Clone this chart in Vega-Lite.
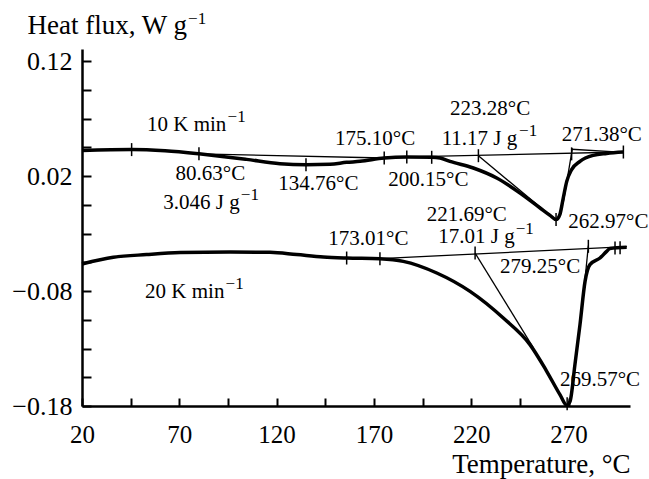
{
  "$schema": "https://vega.github.io/schema/vega-lite/v6.json",
  "width": 548,
  "height": 357,
  "autosize": "none",
  "padding": {"left": 82, "top": 49, "right": 19, "bottom": 73},
  "background": "white",
  "config": {
    "view": {"stroke": null},
    "font": "Liberation Serif",
    "axis": {"grid": false, "domainColor": "black", "domainWidth": 2.5, "tickColor": "black", "tickWidth": 2, "labelColor": "black", "titleColor": "black", "labelFont": "Liberation Serif", "titleFont": "Liberation Serif", "titleFontSize": 27, "titleFontWeight": "normal", "labelOverlap": false, "labelFlush": false}
  },
  "datasets": {
    "curves": [
      {"s": "10", "T": 20, "hf": 0.0423}, {"s": "10", "T": 45.5, "hf": 0.0430}, {"s": "10", "T": 62.7, "hf": 0.0419}, {"s": "10", "T": 80.1, "hf": 0.0393}, {"s": "10", "T": 92, "hf": 0.0371}, {"s": "10", "T": 104.6, "hf": 0.0345}, {"s": "10", "T": 121.7, "hf": 0.0308}, {"s": "10", "T": 135.1, "hf": 0.0299}, {"s": "10", "T": 147.4, "hf": 0.0303}, {"s": "10", "T": 156, "hf": 0.0319}, {"s": "10", "T": 162.9, "hf": 0.0328}, {"s": "10", "T": 175.3, "hf": 0.0357}, {"s": "10", "T": 186.9, "hf": 0.0365}, {"s": "10", "T": 199.7, "hf": 0.0363}, {"s": "10", "T": 204, "hf": 0.0357}, {"s": "10", "T": 209.1, "hf": 0.0328}, {"s": "10", "T": 221.1, "hf": 0.0270}, {"s": "10", "T": 233.1, "hf": 0.0183}, {"s": "10", "T": 245.1, "hf": 0.0052}, {"s": "10", "T": 255.4, "hf": -0.0078}, {"s": "10", "T": 260.5, "hf": -0.0142}, {"s": "10", "T": 263.6, "hf": -0.0179}, {"s": "10", "T": 265.6, "hf": -0.0133}, {"s": "10", "T": 267.3, "hf": 0.0009}, {"s": "10", "T": 269.1, "hf": 0.0154}, {"s": "10", "T": 271.6, "hf": 0.0256}, {"s": "10", "T": 275.9, "hf": 0.0328}, {"s": "10", "T": 282.7, "hf": 0.0380}, {"s": "10", "T": 289.6, "hf": 0.0397}, {"s": "10", "T": 298.2, "hf": 0.0409},
      {"s": "20", "T": 20, "hf": -0.0565}, {"s": "20", "T": 36.1, "hf": -0.0507}, {"s": "20", "T": 53.2, "hf": -0.0483}, {"s": "20", "T": 70.4, "hf": -0.0466}, {"s": "20", "T": 96.1, "hf": -0.0461}, {"s": "20", "T": 116.6, "hf": -0.0463}, {"s": "20", "T": 130.3, "hf": -0.0483}, {"s": "20", "T": 144, "hf": -0.0504}, {"s": "20", "T": 156, "hf": -0.0513}, {"s": "20", "T": 173.1, "hf": -0.0520}, {"s": "20", "T": 185.1, "hf": -0.0542}, {"s": "20", "T": 202.3, "hf": -0.0643}, {"s": "20", "T": 219.4, "hf": -0.0803}, {"s": "20", "T": 236.5, "hf": -0.1035}, {"s": "20", "T": 250.2, "hf": -0.1266}, {"s": "20", "T": 258.8, "hf": -0.1498}, {"s": "20", "T": 265.6, "hf": -0.1701}, {"s": "20", "T": 269.1, "hf": -0.1794}, {"s": "20", "T": 270.8, "hf": -0.1759}, {"s": "20", "T": 273.3, "hf": -0.1440}, {"s": "20", "T": 275.9, "hf": -0.1092}, {"s": "20", "T": 278.5, "hf": -0.0716}, {"s": "20", "T": 281.0, "hf": -0.0570}, {"s": "20", "T": 286.2, "hf": -0.0513}, {"s": "20", "T": 289.6, "hf": -0.0455}, {"s": "20", "T": 291.3, "hf": -0.0431}, {"s": "20", "T": 299.9, "hf": -0.0420}
    ],
    "thin": [
      {"id": "B1", "T": 80.1, "hf": 0.0393}, {"id": "B1", "T": 175.3, "hf": 0.0357},
      {"id": "B2", "T": 175.3, "hf": 0.0363}, {"id": "B2", "T": 298.2, "hf": 0.0409},
      {"id": "T1", "T": 223.7, "hf": 0.0377}, {"id": "T1", "T": 258, "hf": -0.0107},
      {"id": "T2", "T": 272.0, "hf": 0.0440}, {"id": "T2", "T": 267.4, "hf": -0.0022},
      {"id": "S1", "T": 271.6, "hf": 0.0433}, {"id": "S1", "T": 298.2, "hf": 0.0406},
      {"id": "LB", "T": 173.1, "hf": -0.0518}, {"id": "LB", "T": 300, "hf": -0.0414},
      {"id": "LT1", "T": 222, "hf": -0.0470}, {"id": "LT1", "T": 251.8, "hf": -0.129},
      {"id": "LT2", "T": 280.2, "hf": -0.0405}, {"id": "LT2", "T": 277.3, "hf": -0.090}
    ],
    "ticks": [
      {"T": 45.5, "hf": 0.0430}, {"T": 80.1, "hf": 0.0393}, {"T": 135.1, "hf": 0.0299}, {"T": 175.3, "hf": 0.0357}, {"T": 186.9, "hf": 0.0365}, {"T": 199.7, "hf": 0.0363}, {"T": 223.7, "hf": 0.0377}, {"T": 263.6, "hf": -0.0179}, {"T": 271.6, "hf": 0.0393}, {"T": 298.2, "hf": 0.0409},
      {"T": 156, "hf": -0.0513}, {"T": 173.1, "hf": -0.0520}, {"T": 222, "hf": -0.0470}, {"T": 269.3, "hf": -0.178}, {"T": 280.2, "hf": -0.0411}, {"T": 293.9, "hf": -0.0426}, {"T": 296.5, "hf": -0.0424}
    ],
    "labels": [
      {"T": 53.4, "hf": 0.0589, "text": "10 K min"},
      {"T": 68.1, "hf": 0.0163, "text": "80.63°C"},
      {"T": 61.8, "hf": -0.0083, "text": "3.046 J g"},
      {"T": 120.9, "hf": 0.0076, "text": "134.76°C"},
      {"T": 150, "hf": 0.0473, "text": "175.10°C"},
      {"T": 177.4, "hf": 0.011, "text": "200.15°C"},
      {"T": 209.1, "hf": 0.0734, "text": "223.28°C"},
      {"T": 204.8, "hf": 0.0473, "text": "11.17 J g"},
      {"T": 266.5, "hf": 0.0508, "text": "271.38°C"},
      {"T": 269.9, "hf": -0.0252, "text": "262.97°C"},
      {"T": 197.1, "hf": -0.0194, "text": "221.69°C"},
      {"T": 203.1, "hf": -0.0383, "text": "17.01 J g"},
      {"T": 146.6, "hf": -0.0403, "text": "173.01°C"},
      {"T": 234.8, "hf": -0.0643, "text": "279.25°C"},
      {"T": 265.6, "hf": -0.1629, "text": "269.57°C"},
      {"T": 52.4, "hf": -0.0861, "text": "20 K min"}
    ],
    "sups": [
      {"T": 94.8, "hf": 0.0589, "text": "−1"},
      {"T": 101.6, "hf": -0.0083, "text": "−1"},
      {"T": 244.6, "hf": 0.0473, "text": "−1"},
      {"T": 242.9, "hf": -0.0383, "text": "−1"},
      {"T": 93.8, "hf": -0.0861, "text": "−1"},
      {"T": 74.5, "hf": 0.1443, "text": "−1"}
    ]
  },
  "encoding": {
    "x": {"field": "T", "type": "quantitative",
      "scale": {"domain": [20, 301.6], "nice": false, "zero": false},
      "axis": {"values": [20, 45, 70, 95, 120, 145, 170, 195, 220, 245, 270], "labelExpr": "datum.value % 50 == 20 ? datum.label : ''", "labelFontSize": 25, "tickSize": -8, "labelPadding": 24, "title": "Temperature, °C", "titleAlign": "right", "titleAnchor": "end", "titleX": 548, "titleY": 66, "titleBaseline": "alphabetic"}},
    "y": {"field": "hf", "type": "quantitative",
      "scale": {"domain": [-0.18, 0.1305], "nice": false, "zero": false},
      "axis": {"values": [-0.18, -0.155, -0.13, -0.105, -0.08, -0.055, -0.03, -0.005, 0.02, 0.045, 0.07, 0.095, 0.12], "labelExpr": "indexof([-0.18, -0.08, 0.02, 0.12], datum.value) >= 0 ? replace(format(datum.value, '.2f'), '-', '−') : ''", "labelFontSize": 26, "tickSize": -9, "labelPadding": 19, "title": "Heat flux, W g", "titleAngle": 0, "titleAlign": "left", "titleAnchor": "start", "titleX": -55, "titleY": -16, "titleBaseline": "alphabetic"}}
  },
  "layer": [
    {"data": {"name": "thin"}, "mark": {"type": "line", "color": "black", "strokeWidth": 1.3}, "encoding": {"detail": {"field": "id"}}},
    {"data": {"name": "curves"}, "mark": {"type": "line", "color": "black", "strokeWidth": 3.5, "strokeJoin": "round", "interpolate": "monotone"}, "encoding": {"detail": {"field": "s"}}},
    {"data": {"name": "ticks"}, "mark": {"type": "tick", "orient": "vertical", "color": "black", "size": 13, "thickness": 1.5, "opacity": 1}},
    {"data": {"name": "labels"}, "mark": {"type": "text", "align": "left", "baseline": "alphabetic", "fontSize": 21, "font": "Liberation Serif", "color": "black"}, "encoding": {"text": {"field": "text"}}},
    {"data": {"name": "sups"}, "mark": {"type": "text", "align": "left", "baseline": "alphabetic", "dy": -9, "fontSize": 17, "font": "Liberation Serif", "color": "black", "clip": false}, "encoding": {"text": {"field": "text"}}}
  ]
}
